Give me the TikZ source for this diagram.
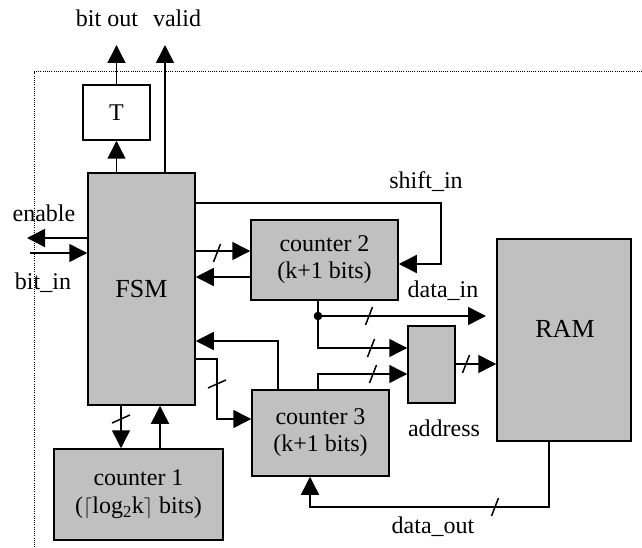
\documentclass[tikz,border=0pt]{standalone}
\usepackage{fontspec}
\setmainfont{Liberation Serif}
\usetikzlibrary{arrows.meta}
\definecolor{boxgray}{HTML}{C0C0C0}
\newcommand\hslash[1]{\draw (#1) ++(-3.5,9) -- ++(7,-18);}
\newcommand\vslash[1]{\draw (#1) ++(-9,4) -- ++(18,-8);}
\newcommand\smallceil[1]{{\fontsize{22}{22}\selectfont$#1$}}
\begin{document}
\begin{tikzpicture}[x=1pt,y=-1pt, line width=1.5pt,
  arr/.style={-{Triangle[length=18pt,width=18pt]}},
  box/.style={draw, fill=boxgray, inner sep=0pt, align=center, font=\fontsize{24}{27}\selectfont},
  lbl/.style={inner sep=0pt, anchor=base, font=\fontsize{24}{27}\selectfont},
  big/.style={font=\fontsize{26}{28}\selectfont}]
\useasboundingbox (0,0) rectangle (642,548);
% dotted boundary
\draw[line width=1pt, dash pattern=on 1pt off 1.2pt] (642,72) -- (34,72) -- (34,548);
% boxes
\node[box, fill=white, minimum width=67pt, minimum height=55pt] (T) at (116.5,112.5) {T};
\node[box, big, minimum width=107pt, minimum height=232pt] (FSM) at (141.5,289) {FSM};
\node[box, minimum width=147pt, minimum height=80pt] (c2) at (324.5,260) {counter 2\\(k+1 bits)};
\node[box, minimum width=47pt, minimum height=77pt] (addr) at (431.5,364.5) {};
\node[box, minimum width=134pt, minimum height=202pt] (RAM) at (564,340) {};
\node[lbl, big] (ramtxt) at (565,337) {RAM};
\node[box, minimum width=137pt, minimum height=86pt] (c3) at (320.5,433) {counter 3\\(k+1 bits)};
\node[box, minimum width=169pt, minimum height=91pt] (c1) at (138.5,494.5) {counter 1\\[1pt](\smallceil{\lceil}log\textsubscript{2}k\smallceil{\rceil} bits)};
% labels
\node[lbl] (lbo) at (107,27) {bit out};
\node[lbl] (lva) at (177,27) {valid};
\node[lbl] (len) at (44,222) {enable};
\node[lbl] (lbi) at (43,289) {bit\_in};
\node[lbl] (lsh) at (426,189) {shift\_in};
\node[lbl] (ldi) at (443,297) {data\_in};
\node[lbl] (lad) at (444,436) {address};
\node[lbl] (ldo) at (433,533) {data\_out};
% coordinates
\coordinate (bo) at (116.5,45);
\coordinate (va) at (165,45);
\coordinate (en) at (27,238);
\coordinate (bi) at (30,253);
\coordinate (sh) at (441,203);
\coordinate (j) at (318,316);
\coordinate (di) at (486,316);
% connectors
\draw[arr] (FSM.north -| T.south) -- (T.south);
\draw[arr] (T.north) -- (bo);
\draw[arr] (FSM.north -| va) -- (va);
\draw[arr] (FSM.west |- en) -- (en);
\draw[arr] (bi) -- (FSM.west |- bi);
\draw[arr] (FSM.east |- sh) -- (sh) -- (sh |- 0,264) -- (c2.east |- 0,264);
\draw[arr] (FSM.east |- 0,251) -- (c2.west |- 0,251);
\draw[arr] (c2.west |- 0,277) -- (FSM.east |- 0,277);
\draw (c2.south -| j) -- (j);
\fill (j) circle (4.3pt);
\draw[arr] (j) -- (di);
\draw[arr] (j) -- (j |- 0,348) -- (addr.west |- 0,348);
\draw[arr] (c3.north -| 318,0) -- (318,374) -- (addr.west |- 0,374);
\draw[arr] (c3.north -| 278,0) -- (278,341) -- (FSM.east |- 0,341);
\draw[arr] (FSM.east |- 0,359) -- (217,359) -- (217,419) -- (c3.west |- 0,419);
\draw[arr] (addr.east |- 0,364) -- (RAM.west |- 0,364);
\draw[arr] (FSM.south -| 121,0) -- (c1.north -| 121,0);
\draw[arr] (c1.north -| 160,0) -- (FSM.south -| 160,0);
\draw[arr] (RAM.south -| 549,0) -- (549,507) -- (310,507) -- (c3.south -| 310,0);
% bus slashes
\hslash{217,253}
\hslash{369,316}
\hslash{371,348}
\hslash{373,374}
\hslash{466,364}
\hslash{495,507}
\vslash{217,384}
\vslash{121,419}
\end{tikzpicture}
\end{document}
